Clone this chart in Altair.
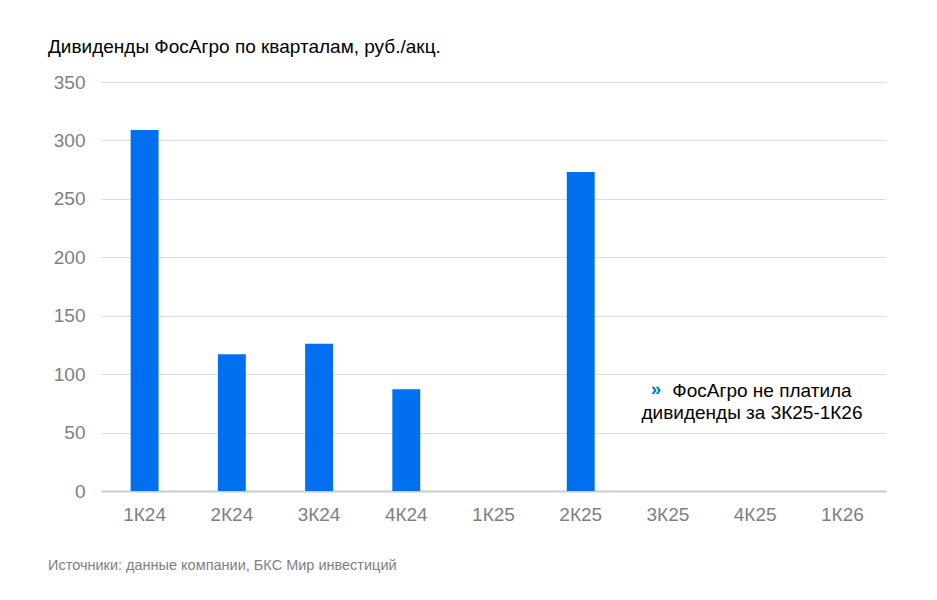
import altair as alt
import pandas as pd

quarters = ["1К24", "2К24", "3К24", "4К24", "1К25", "2К25", "3К25", "4К25", "1К26"]
dividends = [309, 117, 126, 87, 0, 273, 0, 0, 0]

title_text = "Дивиденды ФосАгро по кварталам, руб./акц."
source_text = "Источники: данные компании, БКС Мир инвестиций"
note_line1 = "ФосАгро не платила"
note_line2 = "дивиденды за 3К25-1К26"

df = pd.DataFrame({"q": quarters, "v": dividends})

FONT = "Liberation Sans"
W, H = 785, 409

bars = alt.Chart(df).mark_bar(color="#0070F0").encode(
    x=alt.X("q:N", sort=quarters, title=None,
            scale=alt.Scale(paddingInner=0.68, paddingOuter=0.34),
            axis=alt.Axis(labelAngle=0, labelFontSize=19, labelColor="#7f7f7f",
                          labelFont=FONT, ticks=False, domainColor="#cccccc",
                          domainWidth=2, labelPadding=14, grid=False)),
    y=alt.Y("v:Q", title=None,
            scale=alt.Scale(domain=[0, 350], nice=False),
            axis=alt.Axis(values=[0, 50, 100, 150, 200, 250, 300, 350],
                          labelFontSize=19, labelColor="#7f7f7f", labelFont=FONT,
                          ticks=False, domain=False, gridColor="#dddddd",
                          labelPadding=16)),
)

ann = pd.DataFrame({"t": [note_line1]})
line1 = alt.Chart(ann).mark_text(font=FONT, fontSize=19, color="#000000",
                                 align="center", baseline="middle").encode(
    text="t:N", x=alt.value(661), y=alt.value(309))
ann2 = pd.DataFrame({"t": [note_line2]})
line2 = alt.Chart(ann2).mark_text(font=FONT, fontSize=19, color="#000000",
                                  align="center", baseline="middle").encode(
    text="t:N", x=alt.value(651), y=alt.value(331))
chev = alt.Chart(pd.DataFrame({"t": ["»"]})).mark_text(
    font=FONT, fontSize=19, fontWeight="bold", color="#0070F0",
    align="center", baseline="middle").encode(
    text="t:N", x=alt.value(555), y=alt.value(307))
src = alt.Chart(pd.DataFrame({"t": [source_text]})).mark_text(
    font=FONT, fontSize=14.5, color="#7f7f7f", align="left", baseline="middle").encode(
    text="t:N", x=alt.value(-53), y=alt.value(484))

chart = alt.layer(bars, line1, line2, chev, src).properties(
    width=W, height=H,
    background="#ffffff",
    title=alt.TitleParams(title_text, anchor="start", frame="group", dx=-53,
                          font=FONT, fontSize=19, fontWeight="normal",
                          color="#000000", offset=16),
    autosize=alt.AutoSizeParams(type="none"),
    padding={"left": 93, "top": 74, "right": 43, "bottom": 100},
).configure_view(strokeWidth=0, stroke="transparent")

chart.save("out.html", embed_options={"renderer": "svg", "actions": False})
